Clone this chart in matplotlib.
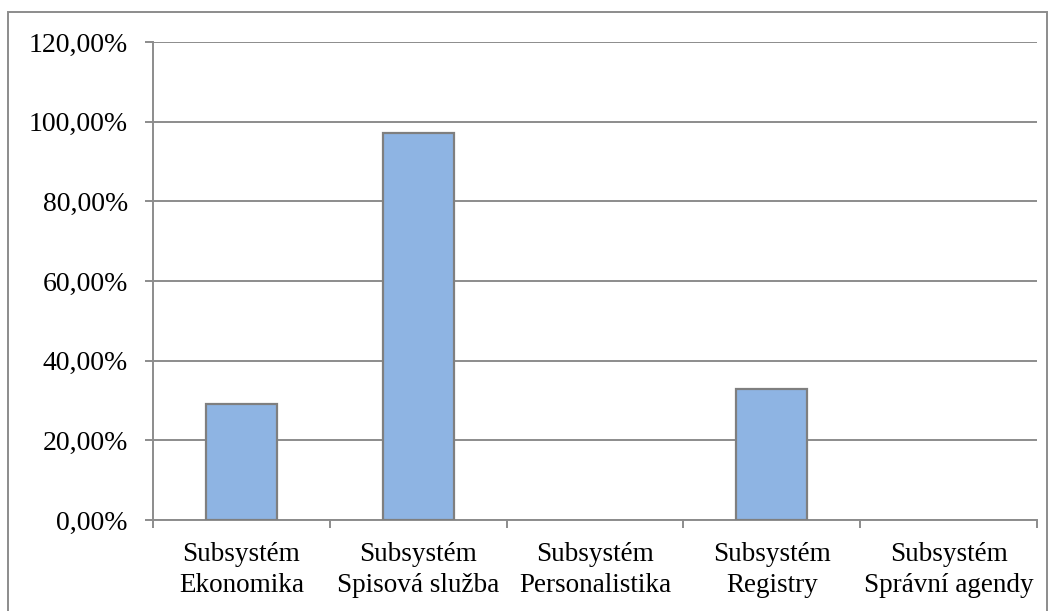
import matplotlib.pyplot as plt
from matplotlib.patches import Rectangle
from matplotlib.ticker import FuncFormatter, MultipleLocator

# Share of each subsystem (percent)
categories = [
    "Subsystém\nEkonomika",
    "Subsystém\nSpisová služba",
    "Subsystém\nPersonalistika",
    "Subsystém\nRegistry",
    "Subsystém\nSprávní agendy",
]
shares = [29.0, 97.2, 0.0, 32.9, 0.0]

plt.rcParams["font.family"] = ["Liberation Serif", "DejaVu Serif"]

fig = plt.figure(figsize=(10.52, 6.11), dpi=100)
ax = fig.add_axes([0.1454, 0.1489, 0.8403, 0.7824])

grid_c = "#8c8c8c"
xs = range(len(categories))
# empty categories get no outline
edge_w = [1.6 if v > 0 else 0 for v in shares]
ax.bar(xs, shares, width=0.40, color="#8eb4e3", edgecolor="#7f7f7f",
       linewidth=edge_w, zorder=3)

ax.set_xlim(-0.5, len(categories) - 0.5)
ax.set_ylim(0, 120)
ax.yaxis.set_major_locator(MultipleLocator(20))
ax.yaxis.set_major_formatter(
    FuncFormatter(lambda v, _: f"{v:.2f}".replace(".", ",") + "%"))
ax.grid(axis="y", color=grid_c, linewidth=1.4, zorder=0)

ax.set_xticks(list(xs))
ax.set_xticklabels(categories, fontsize=19.5, linespacing=1.3)
ax.set_xticks([i - 0.5 for i in range(len(categories) + 1)], minor=True)
ax.tick_params(axis="x", which="major", length=0, pad=16)
ax.tick_params(axis="x", which="minor", length=6, width=1.4, color=grid_c)
ax.tick_params(axis="y", length=6, width=1.4, color=grid_c,
               labelsize=20, pad=12)

for side in ("top", "right"):
    ax.spines[side].set_visible(False)
for side in ("left", "bottom"):
    ax.spines[side].set_color(grid_c)
    ax.spines[side].set_linewidth(1.4)

# outer chart frame
fig.patches.append(Rectangle((8 / 1052, -0.01), 1039 / 1052, 1 - 12 / 611 + 0.01,
                             transform=fig.transFigure, fill=False,
                             edgecolor="#8c8c8c", linewidth=1.4))

fig.savefig("out.png", dpi=100)
